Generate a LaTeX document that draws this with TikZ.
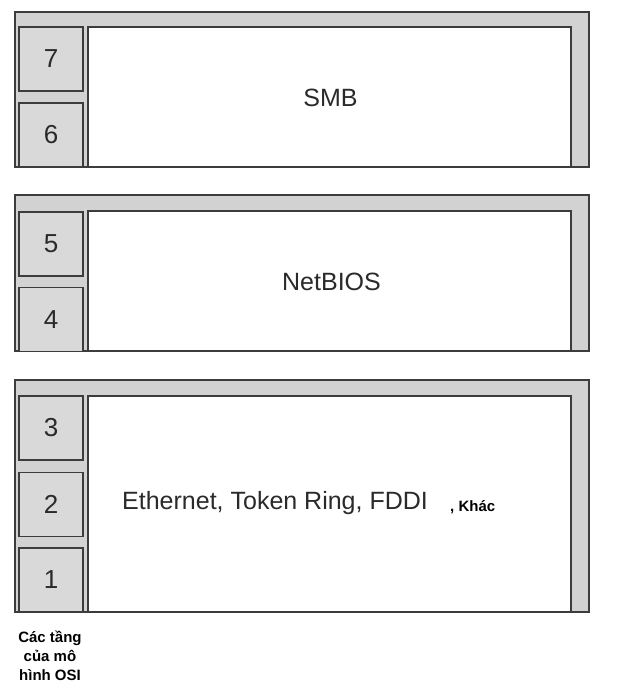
\documentclass[tikz,border=0pt]{standalone}
\usepackage{fontspec}
\setmainfont{Liberation Sans}
\definecolor{panelgray}{HTML}{D2D2D2}
\definecolor{linegray}{HTML}{3C3C3C}
\definecolor{txtgray}{HTML}{2A2A2A}
\begin{document}
\begin{tikzpicture}[x=1pt,y=-1pt,
  frame/.style={draw=linegray,line width=1.6pt,fill=panelgray,minimum width=574pt,inner sep=0pt,outer sep=0pt},
  inner/.style={draw=linegray,line width=1.4pt,fill=white,minimum width=483pt,inner sep=0pt,outer sep=0pt},
  label/.style={text=txtgray,font=\fontsize{25}{28}\selectfont,inner sep=0pt},
  layerbox/.style={draw=linegray,line width=1.5pt,fill=panelgray!85!white,minimum width=64pt,minimum height=64pt,inner sep=0pt,text=txtgray,font=\fontsize{26}{28}\selectfont},
  note/.style={font=\bfseries\fontsize{15}{19}\selectfont,text=black,align=center,inner sep=0pt}]
\useasboundingbox (0,0) rectangle (620,683);
% panel 1
\node[frame,minimum height=155pt] (p1) at (302,89.5) {};
\node[inner,minimum height=140pt] (i1) at (329.5,97) {};
\node[label] (smb) at (330.5,98) {SMB};
\node[layerbox] (l7) at (51,59) {7};
\node[layerbox] (l6) at (51,135) {6};
% panel 2
\node[frame,minimum height=156pt] (p2) at (302,273) {};
\node[inner,minimum height=140pt] (i2) at (329.5,281) {};
\node[label] (nb) at (331.5,282) {NetBIOS};
\node[layerbox] (l5) at (51,244) {5};
\node[layerbox] (l4) at (51,319.5) {4};
% panel 3
\node[frame,minimum height=232pt] (p3) at (302,496) {};
\node[inner,minimum height=216pt] (i3) at (329.5,504) {};
\node[label,anchor=west] (eth) at (122,503) {Ethernet, Token Ring, FDDI};
\node[note,anchor=west] (khac) at (450,507) {, Khác};
\node[layerbox] (l3) at (51,428) {3};
\node[layerbox] (l2) at (51,504.5) {2};
\node[layerbox] (l1) at (51,580) {1};
% caption
\node[note] (cap) at (50,656) {Các tầng\\của mô\\hình OSI};
\end{tikzpicture}
\end{document}
